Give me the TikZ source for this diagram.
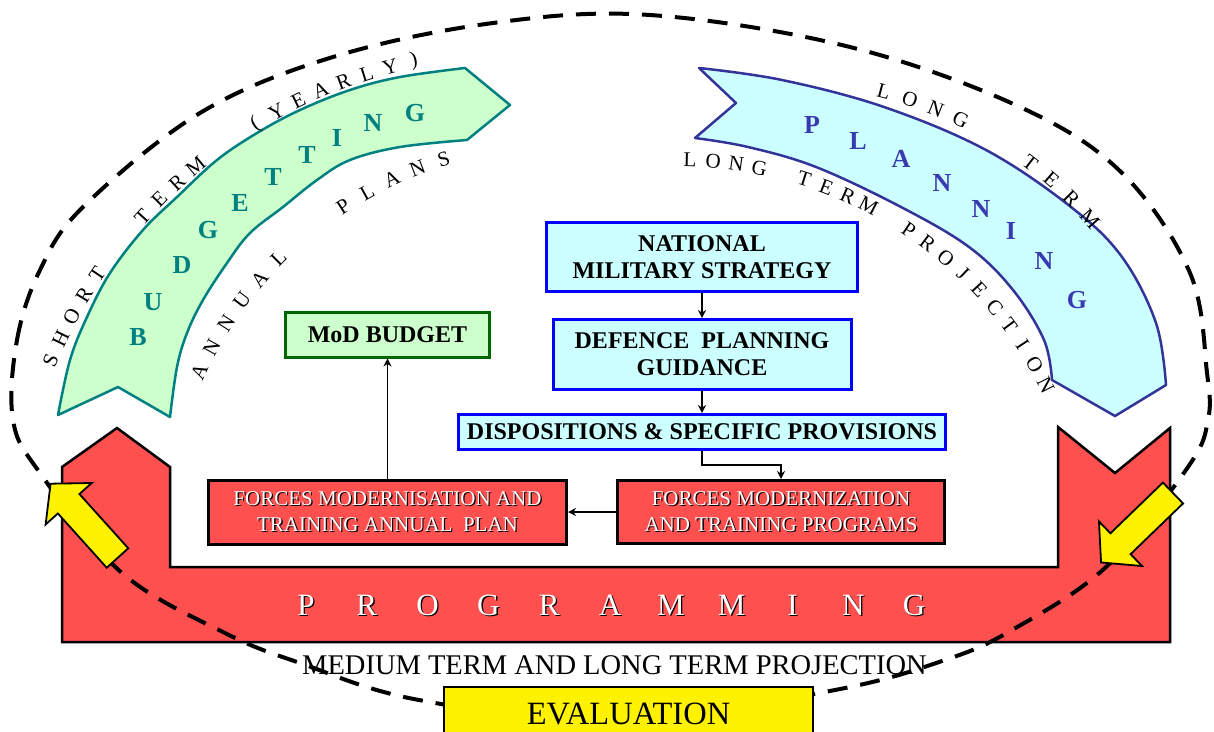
\documentclass[tikz,border=0pt]{standalone}
\usepackage{fontspec}
\setmainfont{Liberation Serif}
\usetikzlibrary{arrows.meta}
\usetikzlibrary{positioning}

\definecolor{bandgreen}{HTML}{CCFFCC}
\definecolor{bandteal}{HTML}{008080}
\definecolor{bandcyan}{HTML}{CCFFFF}
\definecolor{bandviolet}{HTML}{333399}
\definecolor{letterblue}{HTML}{3A3AB0}
\definecolor{progred}{HTML}{FF5050}
\definecolor{boxblue}{HTML}{0000FF}
\definecolor{modgreen}{HTML}{006600}

% white letters with a dark shadow
\newcommand{\embossed}[1]{\leavevmode\rlap{\kern1.3pt\raisebox{-1.3pt}{\color{black}#1}}#1}

\begin{document}
\begin{tikzpicture}[
    x=1pt, y=-1pt,
    node distance=22pt,
    bluebox/.style={
        rectangle,
        draw=boxblue,
        fill=bandcyan,
        line width=3pt,
        align=center,
        inner sep=2pt,
        font=\fontsize{24}{27}\selectfont\bfseries
    },
    redbox/.style={
        rectangle,
        draw=black,
        fill=progred,
        line width=3pt,
        align=center,
        inner sep=2pt,
        text=white,
        font=\fontsize{21}{26}\selectfont
    },
    greenbox/.style={
        rectangle,
        draw=modgreen,
        fill=bandgreen,
        line width=3pt,
        inner sep=2pt,
        font=\fontsize{24}{27}\selectfont\bfseries
    },
    evalbox/.style={
        rectangle,
        draw=black,
        fill=yellow,
        line width=2pt,
        font=\fontsize{32.5}{32.5}\selectfont
    },
    smallarrow/.style={
        -{Stealth[length=8pt, width=8pt]},
        line width=1.5pt
    },
    arcletter/.style={font=\fontsize{21}{21}\selectfont, inner sep=0pt},
    bandletter/.style={font=\fontsize{26}{26}\selectfont\bfseries, inner sep=0pt},
    progletter/.style={font=\fontsize{31}{31}\selectfont, text=white, inner sep=0pt},
    budgetband/.style={draw=bandteal, fill=bandgreen, line width=2.5pt, line join=round},
    planband/.style={draw=bandviolet, fill=bandcyan, line width=2.5pt, line join=round},
    progshape/.style={draw=black, fill=progred, line width=2.5pt},
    yellowarrow/.style={draw=black, fill=yellow, line width=1.8pt, line join=miter},
    cycledash/.style={line width=4pt, dash pattern=on 20pt off 13pt}
]
\useasboundingbox (0,0) rectangle (1214,731);
\clip (0,0) rectangle (1214,731);

% programming frame
\draw[progshape] (62,642) -- (62,467) -- (117,428) -- (170,467) -- (170,567)
    -- (1058,567) -- (1058,427) -- (1115,473) -- (1170,428) -- (1170,642) -- cycle;
\foreach \ch [count=\i from 0] in {P,R,O,G,R,A,M,M,I,N,G} {
    \node[progletter] (prog-\i) at (306+60.8*\i,606) {\embossed{\ch}};
}

% the cycle
\draw[cycledash] plot[smooth cycle, tension=0.6] coordinates {
    (13,420) (17,340) (40,270) (83,207) (200,113) (333,57) (493,23) (650,15)
    (850,47) (1020,107) (1122,173) (1190,273) (1207,373) (1208,420) (1188,467)
    (1106,567) (1012,630) (945,660) (835,690) (620,722) (419,700) (300,663)
    (225,633) (122,573) (40,473)};

% budgetting band
\draw[budgetband] plot[smooth, tension=0.6] coordinates {
    (58,415) (70,360) (87,317) (110,273) (143,230) (177,197) (217,160)
    (257,133) (300,110) (350,90) (400,77) (465,68)}
    -- (510,105)
    -- plot[smooth, tension=0.6] coordinates {
    (467,140) (400,147) (350,160) (317,180) (283,207) (250,233) (227,263)
    (203,300) (187,333) (177,367) (170,417)}
    -- (118,387) -- cycle;
\foreach \ch/\px/\py [count=\i] in {B/138/337, U/153/302, D/182/265, G/208/230,
    E/240/203, T/273/177, T/307/155, I/337/138, N/373/123, G/415/113} {
    \node[bandletter, text=bandteal] (bud-\i) at (\px,\py) {\ch};
}

% planning band
\draw[planband] plot[smooth, tension=0.6] coordinates {
    (699,68) (782,80) (884,107) (986,150) (1071,207) (1122,257) (1156,323) (1166,385)}
    -- (1115,416)
    -- plot[smooth, tension=0.6] coordinates {
    (1052,380) (1044,340) (1013,290) (969,247) (901,207) (816,167) (748,147) (695,138)}
    -- (736,103) -- cycle;
\foreach \ch/\px/\py [count=\i] in {P/812/125, L/858/141, A/901/159, N/942/183,
    N/981/209, I/1011/231, N/1044/261, G/1077/300} {
    \node[bandletter, text=letterblue] (plan-\i) at (\px,\py) {\ch};
}

% words along the bands
\coordinate (stc) at (520,560);
\foreach \ch [count=\i from 0] in {S,H,O,R,T,{},{},T,E,R,M,{},{},{(},Y,E,A,R,L,Y,{)}} {
    \pgfmathsetmacro\a{157-2.75*\i}
    \node[arcletter, rotate=\a-90] (short-\i) at ([shift={(-\a:510)}]stc) {\ch};
}
\coordinate (apc) at (560,540);
\foreach \ch [count=\i from 0] in {A,N,N,U,A,L,{},{},P,L,A,N,S} {
    \pgfmathsetmacro\a{155-4*\i}
    \node[arcletter, rotate=\a-90] (annual-\i) at ([shift={(-\a:398)}]apc) {\ch};
}
\coordinate (ltc) at (780,490);
\foreach \ch [count=\i from 0] in {L,O,N,G,{},{},T,E,R,M} {
    \pgfmathsetmacro\a{75.4-3.8*\i}
    \node[arcletter, rotate=\a-90] (long-\i) at ([shift={(-\a:412)}]ltc) {\ch};
}
\coordinate (lpc) at (680,570);
\foreach \ch [count=\i from 0] in {L,O,N,G,{},T,E,R,M,{},P,R,O,J,E,C,T,I,O,N} {
    \pgfmathsetmacro\a{88.6-3.25*\i}
    \node[arcletter, rotate=\a-90] (proj-\i) at ([shift={(-\a:410)}]lpc) {\ch};
}

% yellow arrows
\draw[yellowarrow, shift={(117.5,558)}, rotate=132]
    (0,-14.5) -- (73,-14.5) -- (73,-31) -- (100,0) -- (73,31) -- (73,14.5) -- (0,14.5) -- cycle;
\draw[yellowarrow, shift={(1173,493)}, rotate=224]
    (0,-14.5) -- (73,-14.5) -- (73,-31) -- (100,0) -- (73,31) -- (73,14.5) -- (0,14.5) -- cycle;

% planning chain
\node[bluebox, minimum width=311pt, minimum height=69pt] (nms) at (702,257) {NATIONAL\\MILITARY STRATEGY};
\node[bluebox, minimum width=298pt, minimum height=70pt, below=25pt of nms] (dpg) {DEFENCE\ \ PLANNING\\GUIDANCE};
\node[bluebox, minimum width=487pt, minimum height=35pt, below=of dpg] (disp) {DISPOSITIONS \& SPECIFIC PROVISIONS};
\node[redbox, minimum width=327pt, minimum height=63pt] (fmtp) at (781,512)
    {\embossed{FORCES MODERNIZATION}\\\embossed{AND TRAINING PROGRAMS}};
\node[redbox, minimum width=358pt, minimum height=64pt, left=48pt of fmtp] (fmtap)
    {\embossed{FORCES MODERNISATION AND}\\\embossed{TRAINING ANNUAL\ \ PLAN}};
\node[greenbox, minimum width=204pt, minimum height=45pt, above=120pt of fmtap] (mod) {MoD BUDGET};

\draw[smallarrow] (nms.south) -- (nms.south |- dpg.north);
\draw[smallarrow] (dpg.south) -- (dpg.south |- disp.north);
\draw[smallarrow] (disp.south) -- ++(0,14) -| (fmtp.north);
\draw[smallarrow] (fmtp.west) -- (fmtap.east);
\draw[smallarrow] (fmtap.north) -- (mod.south);

% bottom
\node[font=\fontsize{28.5}{28.5}\selectfont] (midterm) at (614.5,665) {MEDIUM TERM AND LONG TERM PROJECTION};
\node[evalbox, anchor=north, minimum width=369pt, minimum height=54pt] (eval) at (628.5,686) {EVALUATION};

\end{tikzpicture}
\end{document}
